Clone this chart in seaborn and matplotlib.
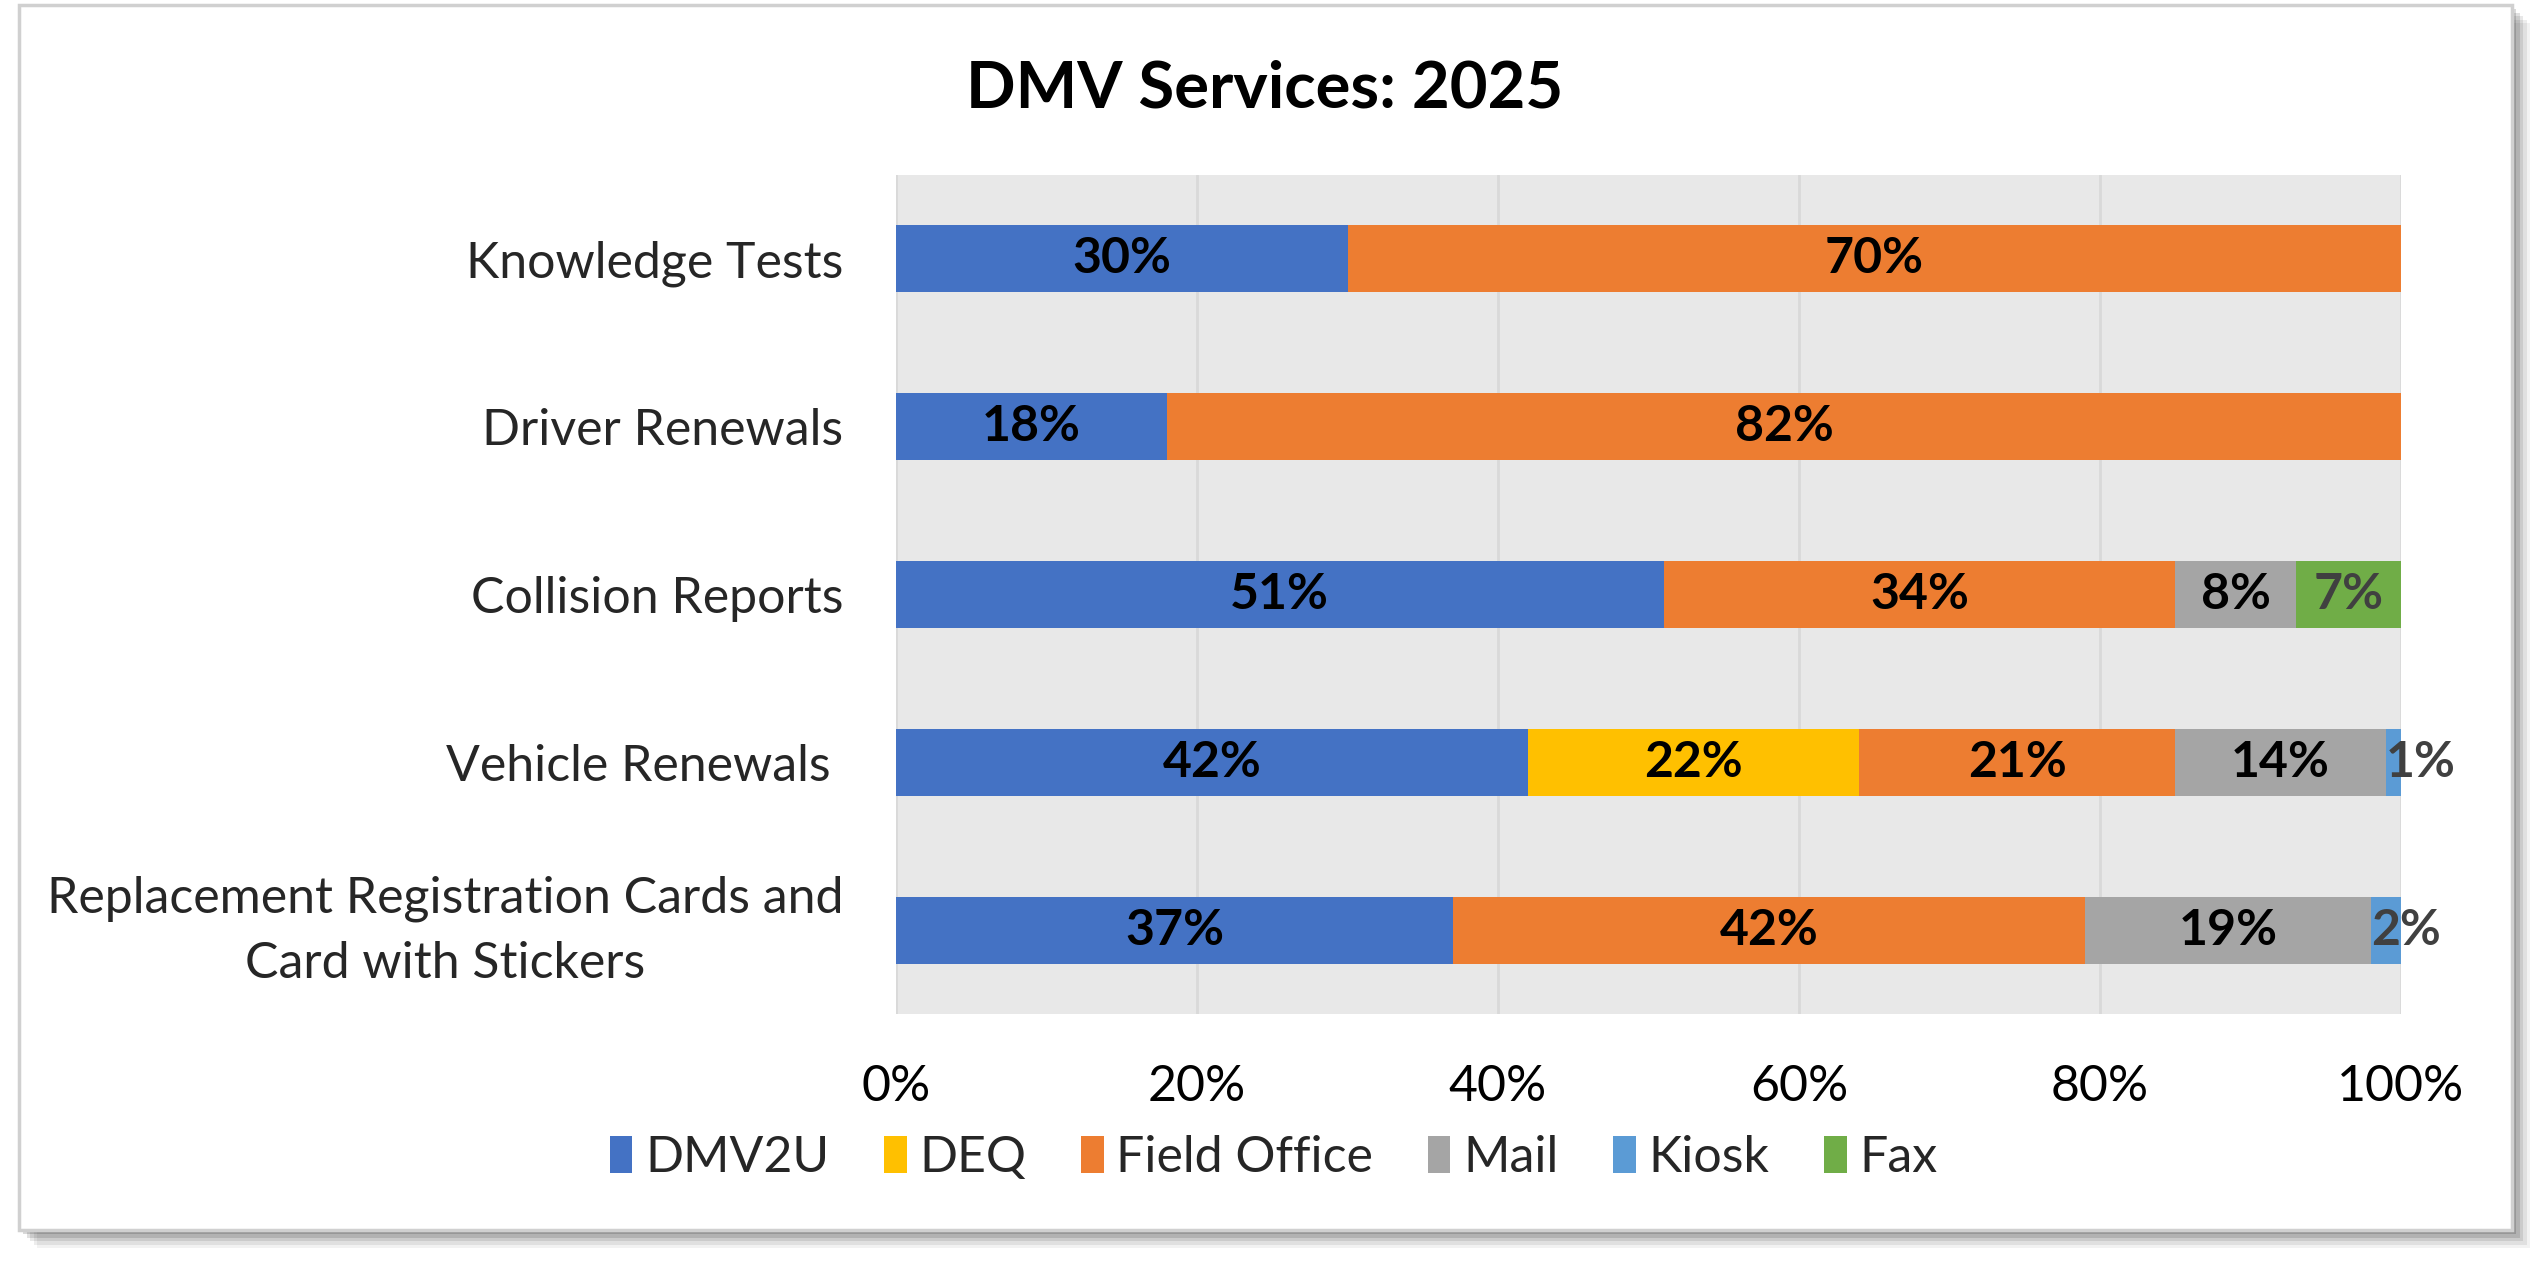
import pandas as pd
import seaborn as sns
import matplotlib as mpl
from matplotlib import pyplot as plt
from matplotlib.patches import Rectangle, Patch
from matplotlib.transforms import ScaledTranslation

# values (percent of transactions)
services = [
    "Knowledge Tests",
    "Driver Renewals",
    "Collision Reports",
    "Vehicle Renewals ",
    "Replacement Registration Cards and\nCard with Stickers",
]
channels = ["DMV2U", "DEQ", "Field Office", "Mail", "Kiosk", "Fax"]
dmv2u = [30, 18, 51, 42, 37]
deq = [0, 0, 0, 22, 0]
field_office = [70, 82, 34, 21, 42]
mail = [0, 0, 8, 14, 19]
kiosk = [0, 0, 0, 1, 2]
fax = [0, 0, 7, 0, 0]

COLORS = {
    "DMV2U": "#4472C4",
    "DEQ": "#FFC000",
    "Field Office": "#ED7D31",
    "Mail": "#A5A5A5",
    "Kiosk": "#5B9BD5",
    "Fax": "#70AD47",
}
LABEL_COLORS = {
    "DMV2U": "black",
    "DEQ": "black",
    "Field Office": "black",
    "Mail": "black",
    "Kiosk": "#404040",
    "Fax": "#404040",
}

sns.set_theme(style="white")
FONT = "Lato"
plt.rcParams["font.family"] = [FONT, "DejaVu Sans"]

W, H = 2532, 1265
DPI = 100

# long table with segment start/end per channel
values = {"DMV2U": dmv2u, "DEQ": deq, "Field Office": field_office,
          "Mail": mail, "Kiosk": kiosk, "Fax": fax}
rows = []
running = [0] * len(services)
for ch in channels:
    for i, svc in enumerate(services):
        v = values[ch][i]
        rows.append({"Service": svc, "Channel": ch, "value": v,
                     "start": running[i], "end": running[i] + v})
        running[i] += v
df = pd.DataFrame(rows)

fig = plt.figure(figsize=(W / DPI, H / DPI), dpi=DPI)

# chart frame with a soft shadow
def px_rect(x0, y0, x1, y1, **kw):
    return Rectangle((x0 / W, 1 - y1 / H), (x1 - x0) / W, (y1 - y0) / H,
                     transform=fig.transFigure, **kw)

for k, a in enumerate([0.05, 0.07, 0.09, 0.12, 0.15]):
    off = 18 - 3.5 * k
    fig.add_artist(px_rect(19 + off, 5 + off, 2512 + off, 1230 + off,
                           facecolor="black", edgecolor="none", alpha=a, zorder=-10))
fig.add_artist(px_rect(19, 5, 2512, 1230, facecolor="white",
                       edgecolor="#D0D0D0", lw=2.5, zorder=-5))

ax = fig.add_axes([896 / W, 1 - 1014 / H, (2401 - 896) / W, (1014 - 175) / H])
ax.set_facecolor("#E8E8E8")

# draw cumulative ends back to front so each segment shows through
for ch in channels[::-1]:
    sub = df[df["Channel"] == ch]
    sns.barplot(
        data=sub, x="end", y="Service", order=services,
        color=COLORS[ch], saturation=1, width=0.4, errorbar=None,
        linewidth=0, ax=ax, zorder=3,
    )

for _, r in df[df["value"] > 0].iterrows():
    yi = services.index(r["Service"])
    if r["Channel"] == "Kiosk":
        # tiny segment: label starts at the segment and runs past it
        xpos, ha = r["start"], "left"
    else:
        xpos, ha = (r["start"] + r["end"]) / 2, "center"
    ax.text(xpos, yi, f"{r['value']}%",
            ha=ha, va="center", fontsize=36, fontweight="bold",
            color=LABEL_COLORS[r["Channel"]], zorder=5)

ax.set_xlim(0, 100)
ax.set_ylim(4.5, -0.5)
ax.set_xticks(range(0, 101, 20))
ax.set_xticklabels([f"{t}%" for t in range(0, 101, 20)])
ax.grid(axis="x", color="#D9D9D9", lw=2, zorder=0)
ax.set_axisbelow(True)
for s in ax.spines.values():
    s.set_visible(False)
ax.set_xlabel("")
ax.set_ylabel("")
ax.tick_params(axis="x", length=0, pad=36, labelsize=36, labelcolor="black")
ax.tick_params(axis="y", length=0, pad=38, labelsize=36, labelcolor="#262626")
for lbl in ax.get_yticklabels():
    lbl.set_multialignment("center")
    lbl.set_linespacing(1.5)
    if "\n" in lbl.get_text():
        lbl.set_transform(lbl.get_transform()
                          + ScaledTranslation(0, 9 / 72, fig.dpi_scale_trans))

fig.text(0.4996, 1 - 89 / H, "DMV Services: 2025", ha="center", va="center",
         fontsize=47, fontweight="bold", color="black")

handles = [Patch(facecolor=COLORS[c], edgecolor="none", label=c) for c in channels]
fig.legend(handles=handles, loc="center", bbox_to_anchor=(0.503, 1 - 1158 / H),
           ncol=6, frameon=False, fontsize=36, handlelength=0.45, handleheight=0.75,
           handletextpad=0.25, columnspacing=1.1, labelcolor="#262626")

fig.savefig("out.png", dpi=DPI)
